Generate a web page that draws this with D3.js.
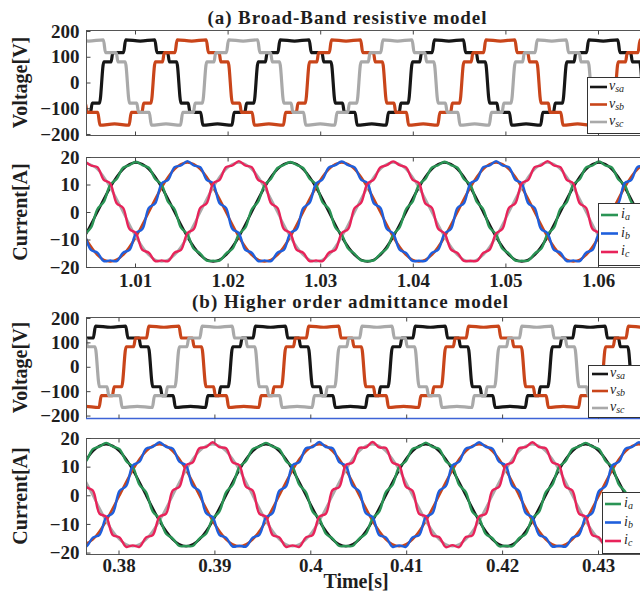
<!DOCTYPE html>
<html>
<head>
<meta charset="utf-8">
<script src="https://cdn.jsdelivr.net/npm/d3@7/dist/d3.min.js"></script>
<style>
html,body{margin:0;padding:0;background:#fff;}
svg{display:block;}
</style>
</head>
<body>
<svg id="chart" width="640" height="591"></svg>
<script>
// ================= DATA =================
const panelTitles = ["(a) Broad-Band resistive model", "(b) Higher order admittance model"];
const xAxisTitle = "Time[s]";
const voltAxisTitle = "Voltage[V]";
const currAxisTitle = "Current[A]";

const timeTicksA = [1.01, 1.02, 1.03, 1.04, 1.05, 1.06];
const timeTickLabelsA = ["1.01", "1.02", "1.03", "1.04", "1.05", "1.06"];
const timeTicksB = [0.38, 0.39, 0.40, 0.41, 0.42, 0.43];
const timeTickLabelsB = ["0.38", "0.39", "0.4", "0.41", "0.42", "0.43"];
const voltTicks = [-200, -100, 0, 100, 200];
const voltTickLabels = ["\u2212200", "\u2212100", "0", "100", "200"];
const currTicks = [-20, -10, 0, 10, 20];
const currTickLabels = ["\u221220", "\u221210", "0", "10", "20"];

const voltLegend = [["v", "sa"], ["v", "sb"], ["v", "sc"]];
const currLegend = [["i", "a"], ["i", "b"], ["i", "c"]];

// Waveform abscissa: electrical degrees (60 Hz) after a reference instant of each run
const fundamentalHz = 60;
const refTimeA = 1.0064;   // s
const refTimeB = 0.37501;  // s

// ---- (a) source voltages: [angle(deg), volts] ----
const vsaA = [[-56,-166],[-51,-116],[-26,-116],[-22,-80],[-5,-80],
[5,80],[22,80],[26,116],[51,116],[56,166],[90,161],[124,166],[129,116],[154,116],[158,80],[175,80],[185,-80],[202,-80],[206,-116],[231,-116],[236,-166],[270,-161],[304,-166],[309,-116],[334,-116],[338,-80],[355,-80],
[365,80],[382,80],[386,116],[411,116],[416,166],[450,161],[484,166],[489,116],[514,116],[518,80],[535,80],[545,-80],[562,-80],[566,-116],[591,-116],[596,-166],[630,-161],[664,-166],[669,-116],[694,-116],[698,-80],[715,-80],
[725,80],[742,80],[746,116],[771,116],[776,166],[810,161],[844,166],[849,116],[874,116],[878,80],[895,80],[905,-80],[922,-80],[926,-116],[951,-116],[956,-166],[990,-161],[1024,-166],[1029,-116],[1054,-116],[1058,-80],[1075,-80],
[1085,80],[1102,80],[1106,116],[1131,116],[1136,166],[1170,161],[1204,166],[1209,116],[1234,116],[1238,80],[1255,80],[1265,-80],[1282,-80],[1286,-116],[1311,-116],[1316,-166],[1350,-161]];
const vsbA = [[-65,80],[-55,-80],[-38,-80],[-34,-116],[-9,-116],[-4,-166],[30,-161],[64,-166],[69,-116],[94,-116],[98,-80],[115,-80],
[125,80],[142,80],[146,116],[171,116],[176,166],[210,161],[244,166],[249,116],[274,116],[278,80],[295,80],[305,-80],[322,-80],[326,-116],[351,-116],[356,-166],[390,-161],[424,-166],[429,-116],[454,-116],[458,-80],[475,-80],
[485,80],[502,80],[506,116],[531,116],[536,166],[570,161],[604,166],[609,116],[634,116],[638,80],[655,80],[665,-80],[682,-80],[686,-116],[711,-116],[716,-166],[750,-161],[784,-166],[789,-116],[814,-116],[818,-80],[835,-80],
[845,80],[862,80],[866,116],[891,116],[896,166],[930,161],[964,166],[969,116],[994,116],[998,80],[1015,80],[1025,-80],[1042,-80],[1046,-116],[1071,-116],[1076,-166],[1110,-161],[1144,-166],[1149,-116],[1174,-116],[1178,-80],[1195,-80],
[1205,80],[1222,80],[1226,116],[1251,116],[1256,166],[1290,161],[1324,166],[1329,116]];
const vscA = [[-69,116],[-64,166],[-30,161],[4,166],[9,116],[34,116],[38,80],[55,80],[65,-80],[82,-80],[86,-116],[111,-116],[116,-166],[150,-161],[184,-166],[189,-116],[214,-116],[218,-80],[235,-80],
[245,80],[262,80],[266,116],[291,116],[296,166],[330,161],[364,166],[369,116],[394,116],[398,80],[415,80],[425,-80],[442,-80],[446,-116],[471,-116],[476,-166],[510,-161],[544,-166],[549,-116],[574,-116],[578,-80],[595,-80],
[605,80],[622,80],[626,116],[651,116],[656,166],[690,161],[724,166],[729,116],[754,116],[758,80],[775,80],[785,-80],[802,-80],[806,-116],[831,-116],[836,-166],[870,-161],[904,-166],[909,-116],[934,-116],[938,-80],[955,-80],
[965,80],[982,80],[986,116],[1011,116],[1016,166],[1050,161],[1084,166],[1089,116],[1114,116],[1118,80],[1135,80],[1145,-80],[1162,-80],[1166,-116],[1191,-116],[1196,-166],[1230,-161],[1264,-166],[1269,-116],[1294,-116],[1298,-80],[1315,-80],[1325,80]];

// ---- (b) source voltages ----
const vsaB = [[-5,-82],[5,82],[22,82],[26,118],[51,118],[56,167],[90,162],[124,167],[129,118],[154,118],[158,82],[175,82],[185,-82],[202,-82],[206,-118],[231,-118],[236,-167],[270,-162],[304,-167],[309,-118],[334,-118],[338,-82],[355,-82],
[365,82],[382,82],[386,118],[411,118],[416,167],[450,162],[484,167],[489,118],[514,118],[518,82],[535,82],[545,-82],[562,-82],[566,-118],[591,-118],[596,-167],[630,-162],[664,-167],[669,-118],[694,-118],[698,-82],[715,-82],
[725,82],[742,82],[746,118],[771,118],[776,167],[810,162],[844,167],[849,118],[874,118],[878,82],[895,82],[905,-82],[922,-82],[926,-118],[951,-118],[956,-167],[990,-162],[1024,-167],[1029,-118],[1054,-118],[1058,-82],[1075,-82],
[1085,82],[1102,82],[1106,118],[1131,118],[1136,167],[1170,162],[1204,167],[1209,118],[1234,118],[1238,82],[1255,82],[1265,-82],[1282,-82],[1286,-118],[1311,-118],[1316,-167],[1350,-162]];
const vsbB = [[-4,-167],[30,-162],[64,-167],[69,-118],[94,-118],[98,-82],[115,-82],
[125,82],[142,82],[146,118],[171,118],[176,167],[210,162],[244,167],[249,118],[274,118],[278,82],[295,82],[305,-82],[322,-82],[326,-118],[351,-118],[356,-167],[390,-162],[424,-167],[429,-118],[454,-118],[458,-82],[475,-82],
[485,82],[502,82],[506,118],[531,118],[536,167],[570,162],[604,167],[609,118],[634,118],[638,82],[655,82],[665,-82],[682,-82],[686,-118],[711,-118],[716,-167],[750,-162],[784,-167],[789,-118],[814,-118],[818,-82],[835,-82],
[845,82],[862,82],[866,118],[891,118],[896,167],[930,162],[964,167],[969,118],[994,118],[998,82],[1015,82],[1025,-82],[1042,-82],[1046,-118],[1071,-118],[1076,-167],[1110,-162],[1144,-167],[1149,-118],[1174,-118],[1178,-82],[1195,-82],
[1205,82],[1222,82],[1226,118],[1251,118],[1256,167],[1290,162],[1324,167],[1329,118],[1354,118]];
const vscB = [[4,167],[9,118],[34,118],[38,82],[55,82],[65,-82],[82,-82],[86,-118],[111,-118],[116,-167],[150,-162],[184,-167],[189,-118],[214,-118],[218,-82],[235,-82],
[245,82],[262,82],[266,118],[291,118],[296,167],[330,162],[364,167],[369,118],[394,118],[398,82],[415,82],[425,-82],[442,-82],[446,-118],[471,-118],[476,-167],[510,-162],[544,-167],[549,-118],[574,-118],[578,-82],[595,-82],
[605,82],[622,82],[626,118],[651,118],[656,167],[690,162],[724,167],[729,118],[754,118],[758,82],[775,82],[785,-82],[802,-82],[806,-118],[831,-118],[836,-167],[870,-162],[904,-167],[909,-118],[934,-118],[938,-82],[955,-82],
[965,82],[982,82],[986,118],[1011,118],[1016,167],[1050,162],[1084,167],[1089,118],[1114,118],[1118,82],[1135,82],[1145,-82],[1162,-82],[1166,-118],[1191,-118],[1196,-167],[1230,-162],[1264,-167],[1269,-118],[1294,-118],[1298,-82],[1315,-82],[1325,82],[1342,82]];

// ---- currents: sampled every 15 deg (rippled) and every 30 deg (smooth reference) ----
const currStartA = -40, currStepA = 15;
const iaA = [-8.1,-5.7,
 1.0,3.7,9.9,12.0,16.1,17.0,18.3,17.0,16.1,12.0,9.9,3.7,1.0,-5.7,-8.1,-13.4,-15.1,-17.7,-17.7,-17.7,-15.1,-13.4,-8.1,-5.7,
 0.9,3.8,9.8,12.1,16.0,17.1,18.2,17.1,16.0,12.1,10.0,3.6,1.1,-5.6,-8.2,-13.3,-15.2,-17.6,-17.8,-17.6,-15.2,-13.3,-8.2,-5.6,
 1.0,3.7,9.9,12.0,16.1,17.0,18.3,17.0,16.1,12.0,9.9,3.7,1.0,-5.7,-8.1,-13.4,-15.1,-17.7,-17.7,-17.7,-15.1,-13.4,-8.1,-5.7,
 1.1,3.6,10.0,11.9,16.2,16.9,18.4,16.9,16.2,11.9,9.8,3.8,0.9,-5.8,-8.0,-13.5,-15.0,-17.8];
const ibA = [-7.7,-13.8,-14.8,-17.9,-17.6,-17.9,-14.8,-13.8,-7.7,-6.2,
 1.5,3.2,10.4,11.7,16.3,16.9,18.5,16.9,16.3,11.7,10.4,3.2,1.5,-6.2,-7.7,-13.8,-14.8,-17.9,-17.6,-17.9,-14.8,-13.8,-7.7,-6.2,
 1.4,3.3,10.3,11.8,16.2,17.0,18.4,17.0,16.2,11.8,10.5,3.1,1.6,-6.1,-7.8,-13.7,-14.9,-17.8,-17.7,-17.8,-14.9,-13.7,-7.8,-6.1,
 1.5,3.2,10.4,11.7,16.3,16.9,18.5,16.9,16.3,11.7,10.4,3.2,1.5,-6.2,-7.7,-13.8,-14.8,-17.9,-17.6,-17.9,-14.8,-13.8,-7.7,-6.2,
 1.6,3.1,10.5,11.6,16.4,16.8,18.6,16.8,16.4,11.6];
const icA = [18.5,16.9,16.3,11.7,10.4,3.2,1.5,-6.2,-7.7,-13.8,-14.8,-17.9,-17.6,-17.9,-14.8,-13.8,-7.7,-6.2,
 1.5,3.2,10.4,11.7,16.3,16.9,18.5,16.9,16.3,11.7,10.4,3.2,1.5,-6.2,-7.7,-13.8,-14.8,-17.9,-17.6,-17.9,-14.8,-13.8,-7.7,-6.2,
 1.4,3.3,10.3,11.8,16.2,17.0,18.4,17.0,16.2,11.8,10.5,3.1,1.6,-6.1,-7.8,-13.7,-14.9,-17.8,-17.7,-17.8,-14.9,-13.7,-7.8,-6.1,
 1.5,3.2,10.4,11.7,16.3,16.9,18.5,16.9,16.3,11.7,10.4,3.2,1.5,-6.2,-7.7,-13.8,-14.8,-17.9,-17.6,-17.9,-14.8,-13.8,-7.7,-6.2,
 1.5,3.2];
const refStartA = -40, refStepA = 30;
const iaRefA = [-9,
 0,9,15.6,18,15.6,9,0,-9,-15.6,-18,-15.6,-9,
 0,9,15.6,18,15.6,9,0,-9,-15.6,-18,-15.6,-9,
 0,9,15.6,18,15.6,9,0,-9,-15.6,-18,-15.6,-9,
 0,9,15.6,18,15.6,9,0,-9,-15.6,-18];
const ibRefA = [-9,-15.6,-18,-15.6,-9,
 0,9,15.6,18,15.6,9,0,-9,-15.6,-18,-15.6,-9,
 0,9,15.6,18,15.6,9,0,-9,-15.6,-18,-15.6,-9,
 0,9,15.6,18,15.6,9,0,-9,-15.6,-18,-15.6,-9,
 0,9,15.6,18,15.6,9];
const icRefA = [18,15.6,9,0,-9,-15.6,-18,-15.6,-9,
 0,9,15.6,18,15.6,9,0,-9,-15.6,-18,-15.6,-9,
 0,9,15.6,18,15.6,9,0,-9,-15.6,-18,-15.6,-9,
 0,9,15.6,18,15.6,9,0,-9,-15.6,-18,-15.6,-9,
 0,9];

const currStartB = 20, currStepB = 15;
const iaB = [9.9,12.0,16.1,17.0,18.3,17.0,16.1,12.0,9.9,3.7,1.0,-5.7,-8.1,-13.4,-15.1,-17.7,-17.7,-17.7,-15.1,-13.4,-8.1,-5.7,
 1.0,3.7,9.9,12.0,16.1,17.0,18.3,17.0,16.1,12.0,9.9,3.7,1.0,-5.7,-8.1,-13.4,-15.1,-17.7,-17.7,-17.7,-15.1,-13.4,-8.1,-5.7,
 1.1,3.6,10.0,11.9,16.2,16.9,18.4,16.9,16.2,11.9,10.0,3.6,1.1,-5.8,-8.0,-13.5,-15.0,-17.8,-17.6,-17.8,-15.0,-13.5,-8.0,-5.8,
 1.0,3.7,9.9,12.0,16.1,17.0,18.3,17.0,16.1,12.0,9.9,3.7,1.0,-5.7,-8.1,-13.4,-15.1,-17.7,-17.7];
const ibB = [-17.6,-17.9,-14.8,-13.8,-7.7,-6.2,
 1.5,3.2,10.4,11.7,16.3,16.9,18.5,16.9,16.3,11.7,10.4,3.2,1.5,-6.2,-7.7,-13.8,-14.8,-17.9,-17.6,-17.9,-14.8,-13.8,-7.7,-6.2,
 1.6,3.1,10.5,11.6,16.4,16.8,18.6,16.8,16.4,11.6,10.3,3.3,1.4,-6.3,-7.6,-13.9,-14.7,-18.0,-17.5,-18.0,-14.7,-13.9,-7.6,-6.3,
 1.5,3.2,10.4,11.7,16.3,16.9,18.5,16.9,16.3,11.7,10.4,3.2,1.5,-6.2,-7.7,-13.8,-14.8,-17.9,-17.6,-17.9,-14.8,-13.8,-7.7,-6.2,
 1.5,3.2,10.4,11.7,16.3,16.9,18.5,16.9,16.3,11.7,10.4];
const icB = [10.5,3.0,1.7,-6.4,-7.5,-13.9,-14.7,-18.0,-17.5,-18.0,-14.7,-13.9,-7.5,-6.4,
 1.7,3.0,10.5,11.5,16.4,16.8,18.5,16.8,16.4,11.5,10.5,3.0,1.7,-6.4,-7.5,-13.9,-14.7,-18.0,-17.5,-18.0,-14.7,-13.9,-7.5,-6.4,
 1.8,2.9,10.6,11.4,16.5,16.7,18.6,16.7,16.5,11.4,10.4,3.1,1.6,-6.5,-7.4,-14.0,-14.6,-18.1,-17.4,-18.1,-14.6,-14.0,-7.4,-6.5,
 1.7,3.0,10.5,11.5,16.4,16.8,18.5,16.8,16.4,11.5,10.5,3.0,1.7,-6.4,-7.5,-13.9,-14.7,-18.0,-17.5,-18.0,-14.7,-13.9,-7.5,-6.4,
 1.7,3.0,10.5];
const refStartB = 20, refStepB = 30;
const iaRefB = [8.9,15.4,17.8,15.4,8.9,0,-8.9,-15.4,-17.8,-15.4,-8.9,
 0,8.9,15.4,17.8,15.4,8.9,0,-8.9,-15.4,-17.8,-15.4,-8.9,
 0,8.9,15.4,17.8,15.4,8.9,0,-8.9,-15.4,-17.8,-15.4,-8.9,
 0,8.9,15.4,17.8,15.4,8.9,0,-8.9,-15.4,-17.8];
const ibRefB = [-17.8,-15.4,-8.9,
 0,8.9,15.4,17.8,15.4,8.9,0,-8.9,-15.4,-17.8,-15.4,-8.9,
 0,8.9,15.4,17.8,15.4,8.9,0,-8.9,-15.4,-17.8,-15.4,-8.9,
 0,8.9,15.4,17.8,15.4,8.9,0,-8.9,-15.4,-17.8,-15.4,-8.9,
 0,8.9,15.4,17.8,15.4,8.9];
const icRefB = [8.9,0,-8.9,-15.4,-17.8,-15.4,-8.9,
 0,8.9,15.4,17.8,15.4,8.9,0,-8.9,-15.4,-17.8,-15.4,-8.9,
 0,8.9,15.4,17.8,15.4,8.9,0,-8.9,-15.4,-17.8,-15.4,-8.9,
 0,8.9,15.4,17.8,15.4,8.9,0,-8.9,-15.4,-17.8,-15.4,-8.9,
 0,8.9];

// ================= DRAWING =================
const C = {black:"#161616", orange:"#c9451a", grey:"#a9a9a9", green:"#2a9455", blue:"#1f5fdc", red:"#e8235a"};
const FONT = "'Liberation Serif','Times New Roman',serif";
const svg = d3.select("#chart");
const defs = svg.append("defs");
const L = 86, R = 660;
const secPerDeg = 1 / (360 * fundamentalHz);

function seq(values, start, step) { return values.map((v, i) => [start + i * step, v]); }

const panels = [
  {key:"va", top:30, bottom:135, tDom:[1.004708, 1.066695], yDom:[-204, 204], yT:voltTicks, yL:voltTickLabels,
   xT:timeTicksA, xL:null, t0:refTimeA, yTitle:voltAxisTitle, volt:true,
   series:[{d:vsaA,c:C.black},{d:vsbA,c:C.orange},{d:vscA,c:C.grey}],
   leg:{x:587, y:77, h:56, rows:[87,104.5,122], lx0:590, lx1:607, tx:609, items:voltLegend, colors:[C.black,C.orange,C.grey]}},
  {key:"ia", top:157, bottom:267, tDom:[1.004708, 1.066695], yDom:[-20, 20], yT:currTicks, yL:currTickLabels,
   xT:timeTicksA, xL:timeTickLabelsA, t0:refTimeA, yTitle:currAxisTitle, volt:false, pad:6,
   refs:[{d:seq(iaRefA,refStartA,refStepA),c:C.black},{d:seq(ibRefA,refStartA,refStepA),c:C.orange},{d:seq(icRefA,refStartA,refStepA),c:C.grey}],
   series:[{d:seq(iaA,currStartA,currStepA),c:C.green},{d:seq(ibA,currStartA,currStepA),c:C.blue},{d:seq(icA,currStartA,currStepA),c:C.red}],
   leg:{x:598, y:203, h:62, rows:[215,233.5,252], lx0:601, lx1:618, tx:621, items:currLegend, colors:[C.green,C.blue,C.red]}},
  {key:"vb", top:317, bottom:418, tDom:[0.376611, 0.436465], yDom:[-210, 204], yT:voltTicks, yL:voltTickLabels,
   xT:timeTicksB, xL:null, t0:refTimeB, yTitle:voltAxisTitle, volt:true, blueBottom:true,
   series:[{d:vsaB,c:C.black},{d:vsbB,c:C.orange},{d:vscB,c:C.grey}],
   leg:{x:588, y:365, h:52, rows:[374,391,408], lx0:592, lx1:608, tx:610, items:voltLegend, colors:[C.black,C.orange,C.grey]}},
  {key:"ib", top:438, bottom:554, yDom:[-20.5, 20], tDom:[0.376611, 0.436465], yT:currTicks, yL:currTickLabels,
   xT:timeTicksB, xL:timeTickLabelsB, t0:refTimeB, yTitle:currAxisTitle, volt:false, pad:4,
   refs:[{d:seq(iaRefB,refStartB,refStepB),c:C.black},{d:seq(ibRefB,refStartB,refStepB),c:C.orange},{d:seq(icRefB,refStartB,refStepB),c:C.grey}],
   series:[{d:seq(iaB,currStartB,currStepB),c:C.green},{d:seq(ibB,currStartB,currStepB),c:C.blue},{d:seq(icB,currStartB,currStepB),c:C.red}],
   leg:{x:602, y:492, h:61, rows:[504,522.5,541], lx0:605, lx1:621, tx:624, items:currLegend, colors:[C.green,C.blue,C.red]}}
];

panels.forEach(p => {
  const x = d3.scaleLinear().domain(p.tDom).range([L, R]);
  const y = d3.scaleLinear().domain(p.yDom).range([p.bottom, p.top]);
  const g = svg.append("g");
  defs.append("clipPath").attr("id", "clip-" + p.key)
    .append("rect").attr("x", L).attr("y", p.top).attr("width", R - L).attr("height", p.bottom - p.top);
  const plot = g.append("g").attr("clip-path", `url(#clip-${p.key})`);
  const lineFor = curve => d3.line().x(d => x(p.t0 + d[0] * secPerDeg)).y(d => y(d[1])).curve(curve);

  if (p.refs) p.refs.forEach(s => {
    plot.append("path").datum(s.d).attr("d", lineFor(d3.curveNatural))
      .attr("fill", "none").attr("stroke", s.c).attr("stroke-width", 2.6);
  });
  p.series.forEach(s => {
    plot.append("path").datum(s.d)
      .attr("d", lineFor(p.volt ? d3.curveMonotoneX : d3.curveCatmullRom.alpha(0.5)))
      .attr("fill", "none").attr("stroke", s.c).attr("stroke-width", p.volt ? 3.2 : 2.4)
      .attr("stroke-linejoin", "round");
  });

  // frame
  g.append("rect").attr("x", L + 0.5).attr("y", p.top + 0.5).attr("width", R - L).attr("height", p.bottom - p.top)
    .attr("fill", "none").attr("stroke", "#555").attr("stroke-width", 1);
  if (p.blueBottom) {
    g.append("line").attr("x1", L).attr("x2", R).attr("y1", p.bottom + 0.5).attr("y2", p.bottom + 0.5)
      .attr("stroke", "#3d63d6").attr("stroke-width", 1.3);
  }

  // axes
  const bottomAx = d3.axisBottom(x).tickValues(p.xT).tickSizeInner(-4).tickSizeOuter(0).tickPadding(p.pad || 3)
    .tickFormat((d, i) => p.xL ? p.xL[i] : "");
  const topAx = d3.axisTop(x).tickValues(p.xT).tickSizeInner(-4).tickSizeOuter(0).tickFormat("");
  const leftAx = d3.axisLeft(y).tickValues(p.yT).tickSizeInner(-4).tickSizeOuter(0).tickPadding(7)
    .tickFormat((d, i) => p.yL[i]);
  [[bottomAx, p.bottom], [topAx, p.top]].forEach(([ax, yy]) => {
    const a = g.append("g").attr("transform", `translate(0,${yy + 0.5})`).call(ax);
    a.select(".domain").remove();
  });
  const la = g.append("g").attr("transform", `translate(${L + 0.5},0)`).call(leftAx);
  la.select(".domain").remove();
  g.selectAll(".tick line").attr("stroke", "#444");
  g.selectAll(".tick text").attr("font-family", FONT).attr("font-weight", "bold")
    .attr("font-size", 19).attr("fill", "#1e1e1e");

  // y title
  g.append("text").attr("transform", `translate(27,${(p.top + p.bottom) / 2}) rotate(-90)`)
    .attr("text-anchor", "middle").attr("font-family", FONT).attr("font-weight", "bold")
    .attr("font-size", 20).attr("fill", "#1e1e1e").text(p.yTitle);

  // legend
  const lg = p.leg;
  const leg = g.append("g");
  leg.append("rect").attr("x", lg.x + 0.5).attr("y", lg.y + 0.5).attr("width", 80).attr("height", lg.h)
    .attr("fill", "#fff").attr("stroke", "#333").attr("stroke-width", 1);
  lg.items.forEach((it, i) => {
    leg.append("line").attr("x1", lg.lx0).attr("x2", lg.lx1).attr("y1", lg.rows[i]).attr("y2", lg.rows[i])
      .attr("stroke", lg.colors[i]).attr("stroke-width", 2.6);
    const t = leg.append("text").attr("x", lg.tx).attr("y", lg.rows[i] + 3)
      .attr("font-family", FONT).attr("font-style", "italic").attr("font-size", 14).attr("fill", "#1e1e1e");
    t.append("tspan").text(it[0]);
    t.append("tspan").attr("dy", 2).attr("font-size", 10).text(it[1]);
  });
});

// panel titles
svg.append("text").attr("x", 347).attr("y", 24).attr("text-anchor", "middle")
  .attr("font-family", FONT).attr("font-weight", "bold").attr("font-size", 19).attr("fill", "#1e1e1e")
  .attr("textLength", 279).attr("lengthAdjust", "spacing").text(panelTitles[0]);
svg.append("text").attr("x", 350).attr("y", 308).attr("text-anchor", "middle")
  .attr("font-family", FONT).attr("font-weight", "bold").attr("font-size", 19).attr("fill", "#1e1e1e")
  .attr("textLength", 316).attr("lengthAdjust", "spacing").text(panelTitles[1]);
// x title
svg.append("text").attr("x", 356).attr("y", 588).attr("text-anchor", "middle")
  .attr("font-family", FONT).attr("font-weight", "bold").attr("font-size", 20).attr("fill", "#1e1e1e")
  .text(xAxisTitle);
</script>
</body>
</html>
